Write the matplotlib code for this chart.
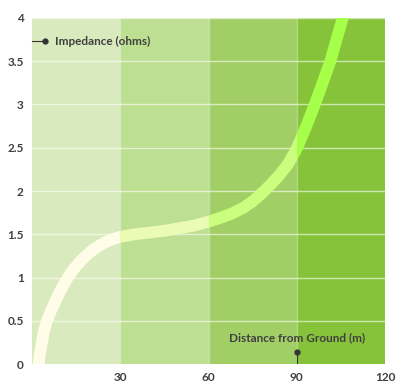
import matplotlib.pyplot as plt
from matplotlib.patches import Rectangle

# zones along the x axis
band_edges = [0, 30, 60, 90, 120]
band_colors = ["#d8eabe", "#bddf91", "#a1cf66", "#86c33a"]
line_colors = ["#fffde8", "#eafbb4", "#cbfd7e", "#a6ff48"]

# impedance curve
dist = [2.15, 2.6, 3.2, 4, 5, 6.5, 8, 10, 12, 14, 16, 18, 20, 22, 25, 28, 30,
        35, 40, 45, 50, 55, 60, 64, 68, 72, 75, 78, 81, 84, 87, 90, 93, 96, 99,
        101.4, 103.5, 105.6, 107]
imped = [-0.05, 0.1, 0.22, 0.37, 0.49, 0.62, 0.73, 0.87, 0.99, 1.09, 1.17, 1.24, 1.30,
         1.35, 1.41, 1.45, 1.47, 1.50, 1.52, 1.54, 1.57, 1.60, 1.645, 1.69, 1.74, 1.81,
         1.88, 1.97, 2.07, 2.18, 2.31, 2.49, 2.73, 2.99, 3.27, 3.5, 3.75, 4.0, 4.2]

xticks = [30, 60, 90, 120]
yticks = [0, 0.5, 1, 1.5, 2, 2.5, 3, 3.5, 4]
ytick_labels = ["0", "0.5", "1", "1.5", "2", "2.5", "3", "3.5", "4"]

plt.rcParams["font.family"] = ["Lato", "DejaVu Sans"]
txt_color = "#404040"

fig = plt.figure(figsize=(4.06, 3.91), dpi=100)
ax = fig.add_axes([0.0788, 0.069, 0.8696, 0.885])

for i in range(4):
    ax.axvspan(band_edges[i], band_edges[i + 1], color=band_colors[i], lw=0, zorder=0)

# grid lines
for y in yticks[1:]:
    ax.axhline(y, color="white", alpha=0.6, lw=1, zorder=1)
for x in band_edges[1:-1]:
    ax.axvline(x, color="white", alpha=0.35, lw=1, zorder=1)

# curve, coloured per zone
for i in range(4):
    clip = Rectangle((band_edges[i], 0), band_edges[i + 1] - band_edges[i], 4,
                     transform=ax.transData)
    ln, = ax.plot(dist, imped, color=line_colors[i], lw=8.5, solid_capstyle="butt",
                  solid_joinstyle="round", zorder=2)
    ln.set_clip_path(clip)

ax.set_xlim(0, 120)
ax.set_ylim(0, 4)
ax.set_xticks(xticks)
ax.set_yticks(yticks)
ax.set_yticklabels(ytick_labels)
ax.tick_params(length=0, labelsize=8.5, labelcolor=txt_color, pad=6)
for lbl in ax.get_xticklabels() + ax.get_yticklabels():
    lbl.set_fontweight("bold")
for s in ax.spines.values():
    s.set_visible(False)

# axis title call-outs
ax.plot([0, 4.4], [3.73, 3.73], color="#333333", lw=0.8, zorder=3, clip_on=False)
ax.plot([4.4], [3.73], "o", color="#333333", ms=3.5, zorder=3)
ax.text(7.8, 3.73, "Impedance (ohms)", color=txt_color, fontsize=8.5, fontweight="bold",
        va="center", ha="left")

ax.plot([90, 90], [0, 0.14], color="#333333", lw=0.8, zorder=3)
ax.plot([90], [0.14], "o", color="#333333", ms=3.5, zorder=3)
ax.text(90, 0.31, "Distance from Ground (m)", color=txt_color, fontsize=8.5,
        fontweight="bold", va="center", ha="center")

fig.savefig("out.png", dpi=100)
